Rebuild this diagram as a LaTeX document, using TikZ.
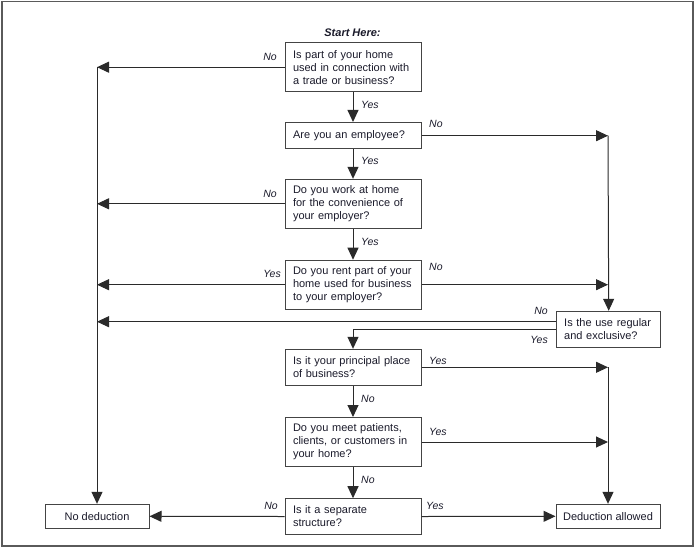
\documentclass[tikz,border=0pt]{standalone}
\usepackage{fontspec}
\setmainfont{Liberation Sans}
\usetikzlibrary{arrows.meta,calc}
\definecolor{linec}{HTML}{2A2A2A}
\definecolor{boxc}{HTML}{444444}
\definecolor{textc}{HTML}{1A1A2A}
\definecolor{framec}{HTML}{5A5A5A}
\begin{document}
\begin{tikzpicture}[x=1pt,y=-1pt,
  qbox/.style={draw=boxc, line width=1pt, text width=#1, inner xsep=8pt, inner ysep=0pt,
    align=left, font=\fontsize{11}{13}\selectfont, text=textc},
  endbox/.style={draw=boxc, line width=1pt, minimum width=104pt, minimum height=24pt,
    inner sep=0pt, align=center, font=\fontsize{11}{13}\selectfont, text=textc},
  conn/.style={draw=linec, line width=1pt, -{Triangle[length=12pt,width=11pt]}},
  lab/.style={font=\fontsize{10.5}{12}\selectfont\itshape, text=textc, inner sep=0pt}]
\useasboundingbox (0,0) rectangle (695,549);
\draw[framec, line width=1.2pt] (2,1.5) rectangle (693,546);

\node[font=\fontsize{11}{13}\selectfont\bfseries\itshape, text=textc, anchor=base, inner sep=0pt] (start) at (352.5,36) {Start Here:};

\node[qbox=120pt, minimum height=49pt] (b1) at (353,67.2) {Is part of your home\\used in connection with\\a trade or business?};
\node[qbox=120pt, minimum height=26.5pt] (b2) at (353,135.7) {Are you an employee?};
\node[qbox=120pt, minimum height=49pt] (b3) at (353,203.8) {Do you work at home\\for the convenience of\\your employer?};
\node[qbox=120pt, minimum height=49pt] (b4) at (353,284.7) {Do you rent part of your\\home used for business\\to your employer?};
\node[qbox=89pt, inner xsep=7.5pt, minimum height=36pt] (b5) at (608.7,329.3) {Is the use regular\\and exclusive?};
\node[qbox=120pt, minimum height=36pt] (b6) at (353,367.3) {Is it your principal place\\of business?};
\node[qbox=120pt, minimum height=49pt] (b7) at (353,442) {Do you meet patients,\\clients, or customers in\\your home?};
\node[qbox=120pt, minimum height=35.6pt] (b8) at (353,516.5) {Is it a separate\\structure?};
\node[endbox] (nd) at (97,516.3) {No deduction};
\node[endbox] (da) at (608,516.3) {Deduction allowed};

\coordinate (L1) at (97,67.2);
\coordinate (L3) at (97,203.8);
\coordinate (L4) at (97,284.7);
\coordinate (L5) at (97,321.7);
\coordinate (R2) at (608,135.7);
\coordinate (R4) at (608,284.7);
\coordinate (R6) at (608,367.3);
\coordinate (R7) at (608,442);
\coordinate (b5n) at ($(b5.west)+(0,-7.6)$);

% vertical main flow
\draw[conn] (b1.south) -- (b2.north);
\draw[conn] (b2.south) -- (b3.north);
\draw[conn] (b3.south) -- (b4.north);
\draw[conn] (b6.south) -- (b7.north);
\draw[conn] (b7.south) -- (b8.north);

% left side
\draw[conn] (b1.west) -- (L1);
\draw[conn] (L1) -- (nd.north);
\draw[conn] (b3.west) -- (L3);
\draw[conn] (b4.west) -- (L4);
\draw[conn] (b5n) -- (L5);
\draw[conn] (b8.west) -- (nd.east);

% right side
\draw[conn] (b2.east) -- (R2);
\draw[conn] (R2) -- (b5.north);
\draw[conn] (b4.east) -- (R4);
\draw[conn] (b5.west) -| (b6.north);
\draw[conn] (b6.east) -- (R6);
\draw[conn] (R6) -- (da.north);
\draw[conn] (b7.east) -- (R7);
\draw[conn] (b8.east) -- (da.west);

% labels
\node[lab, anchor=base east] (n1) at (277,60) {No};
\node[lab, anchor=base west] (y1) at (361,108) {Yes};
\node[lab, anchor=base west] (n2) at (429,127) {No};
\node[lab, anchor=base west] (y2) at (361,164) {Yes};
\node[lab, anchor=base east] (n3) at (277,197) {No};
\node[lab, anchor=base west] (y3) at (361,245) {Yes};
\node[lab, anchor=base east] (y4) at (281,277) {Yes};
\node[lab, anchor=base west] (n4) at (429,270) {No};
\node[lab, anchor=base east] (n5) at (548,314) {No};
\node[lab, anchor=base east] (y5) at (548,343) {Yes};
\node[lab, anchor=base west] (y6) at (429,364) {Yes};
\node[lab, anchor=base west] (n6) at (361,402) {No};
\node[lab, anchor=base west] (y7) at (429,435) {Yes};
\node[lab, anchor=base west] (n7) at (361,483) {No};
\node[lab, anchor=base east] (n8) at (278,509) {No};
\node[lab, anchor=base west] (y8) at (426,509) {Yes};
\end{tikzpicture}
\end{document}
